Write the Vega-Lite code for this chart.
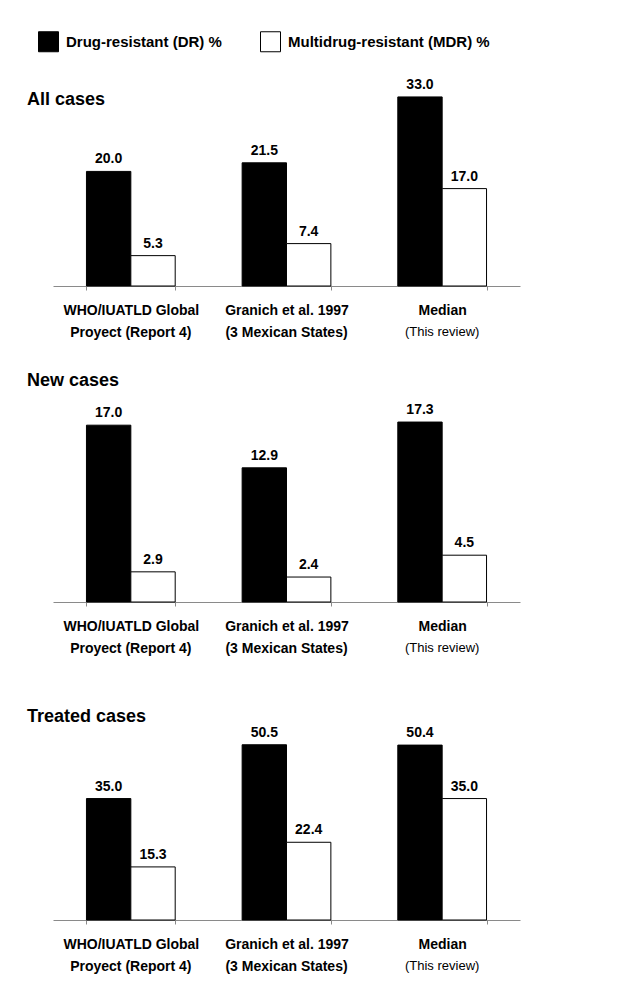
{
  "$schema": "https://vega.github.io/schema/vega-lite/v6.json",
  "padding": {"left": 27, "top": 31, "right": 5, "bottom": 5},
  "bounds": "flush",
  "spacing": 93,
  "config": {
    "font": "Liberation Sans",
    "view": {"stroke": null},
    "title": {"fontSize": 18, "fontWeight": "bold", "anchor": "start", "frame": "group", "color": "black", "dx": -26},
    "legend": {"padding": 0}
  },
  "datasets": {
    "d": [
      {"panel": "All cases", "study": "WHO/IUATLD Global Proyect (Report 4)", "type": "Drug-resistant (DR) %", "value": 20.0},
      {"panel": "All cases", "study": "WHO/IUATLD Global Proyect (Report 4)", "type": "Multidrug-resistant (MDR) %", "value": 5.3},
      {"panel": "All cases", "study": "Granich et al. 1997 (3 Mexican States)", "type": "Drug-resistant (DR) %", "value": 21.5},
      {"panel": "All cases", "study": "Granich et al. 1997 (3 Mexican States)", "type": "Multidrug-resistant (MDR) %", "value": 7.4},
      {"panel": "All cases", "study": "Median (This review)", "type": "Drug-resistant (DR) %", "value": 33.0},
      {"panel": "All cases", "study": "Median (This review)", "type": "Multidrug-resistant (MDR) %", "value": 17.0},
      {"panel": "New cases", "study": "WHO/IUATLD Global Proyect (Report 4)", "type": "Drug-resistant (DR) %", "value": 17.0},
      {"panel": "New cases", "study": "WHO/IUATLD Global Proyect (Report 4)", "type": "Multidrug-resistant (MDR) %", "value": 2.9},
      {"panel": "New cases", "study": "Granich et al. 1997 (3 Mexican States)", "type": "Drug-resistant (DR) %", "value": 12.9},
      {"panel": "New cases", "study": "Granich et al. 1997 (3 Mexican States)", "type": "Multidrug-resistant (MDR) %", "value": 2.4},
      {"panel": "New cases", "study": "Median (This review)", "type": "Drug-resistant (DR) %", "value": 17.3},
      {"panel": "New cases", "study": "Median (This review)", "type": "Multidrug-resistant (MDR) %", "value": 4.5},
      {"panel": "Treated cases", "study": "WHO/IUATLD Global Proyect (Report 4)", "type": "Drug-resistant (DR) %", "value": 35.0},
      {"panel": "Treated cases", "study": "WHO/IUATLD Global Proyect (Report 4)", "type": "Multidrug-resistant (MDR) %", "value": 15.3},
      {"panel": "Treated cases", "study": "Granich et al. 1997 (3 Mexican States)", "type": "Drug-resistant (DR) %", "value": 50.5},
      {"panel": "Treated cases", "study": "Granich et al. 1997 (3 Mexican States)", "type": "Multidrug-resistant (MDR) %", "value": 22.4},
      {"panel": "Treated cases", "study": "Median (This review)", "type": "Drug-resistant (DR) %", "value": 50.4},
      {"panel": "Treated cases", "study": "Median (This review)", "type": "Multidrug-resistant (MDR) %", "value": 35.0}
    ]
  },
  "vconcat": [
    {
      "title": {"text": "All cases", "offset": -39},
      "width": 467, "height": 216,
      "data": {"name": "d"},
      "transform": [{"filter": "datum.panel == 'All cases'"}],
      "encoding": {
        "x": {"field": "study", "type": "nominal", "sort": null, "scale": {"paddingInner": 0.43, "paddingOuter": 0.215},
          "axis": {"orient": "bottom", "title": null, "domainColor": "#8a8a8a", "tickColor": "#8a8a8a", "tickBand": "extent", "tickSize": 4, "labelPadding": 13, "labelFontSize": 14, "labelFontWeight": "bold", "labelColor": "black", "labelAngle": 0, "labelLimit": 300, "labelOverlap": false,
            "labelExpr": "datum.value == 'Median (This review)' ? 'Median' : datum.value == 'Granich et al. 1997 (3 Mexican States)' ? 'Granich et al. 1997' : datum.value == 'WHO/IUATLD Global Proyect (Report 4)' ? 'WHO/IUATLD Global' : ''"}},
        "xOffset": {"field": "type", "type": "nominal", "sort": null, "scale": {"paddingInner": 0, "paddingOuter": 0}},
        "y": {"field": "value", "type": "quantitative", "scale": {"domain": [0, 37.7], "nice": false}, "axis": null}
      },
      "layer": [
        {"mark": {"type": "bar", "stroke": "black", "strokeWidth": 1},
          "encoding": {"fill": {"field": "type", "type": "nominal", "scale": {"domain": ["Drug-resistant (DR) %", "Multidrug-resistant (MDR) %"], "range": ["black", "white"]},
            "legend": {"title": null, "orient": "none", "direction": "horizontal", "legendX": -15, "legendY": -39, "symbolType": "square", "symbolSize": 400, "symbolStrokeColor": "black", "symbolStrokeWidth": 1, "labelFontSize": 15, "labelFontWeight": "bold", "labelColor": "black", "labelLimit": 400, "labelOffset": 7, "columnPadding": 36}}}},
        {"mark": {"type": "text", "baseline": "alphabetic", "dy": -8, "fontSize": 14, "fontWeight": "bold", "color": "black"},
          "encoding": {"text": {"field": "value", "type": "quantitative", "format": ".1f"},
            "x": {"field": "study", "type": "nominal", "sort": null,
              "axis": {"orient": "bottom", "title": null, "domain": false, "ticks": false, "tickSize": 0, "labelPadding": 39, "labelFontSize": {"condition": {"test": "datum.value == 'Median (This review)'", "value": 13}, "value": 14}, "labelFontWeight": {"condition": {"test": "datum.value == 'Median (This review)'", "value": "normal"}, "value": "bold"}, "labelColor": "black", "labelAngle": 0, "labelLimit": 300, "labelOverlap": false,
                "labelExpr": "datum.value == 'Median (This review)' ? '(This review)' : datum.value == 'Granich et al. 1997 (3 Mexican States)' ? '(3 Mexican States)' : datum.value == 'WHO/IUATLD Global Proyect (Report 4)' ? 'Proyect (Report 4)' : ''"}}}}
      ],
      "resolve": {"axis": {"x": "independent"}}
    },
    {
      "title": {"text": "New cases", "offset": -11},
      "width": 467, "height": 223,
      "data": {"name": "d"},
      "transform": [{"filter": "datum.panel == 'New cases'"}],
      "encoding": {
        "x": {"field": "study", "type": "nominal", "sort": null, "scale": {"paddingInner": 0.43, "paddingOuter": 0.215},
          "axis": {"orient": "bottom", "title": null, "domainColor": "#8a8a8a", "tickColor": "#8a8a8a", "tickBand": "extent", "tickSize": 4, "labelPadding": 13, "labelFontSize": 14, "labelFontWeight": "bold", "labelColor": "black", "labelAngle": 0, "labelLimit": 300, "labelOverlap": false,
            "labelExpr": "datum.value == 'Median (This review)' ? 'Median' : datum.value == 'Granich et al. 1997 (3 Mexican States)' ? 'Granich et al. 1997' : datum.value == 'WHO/IUATLD Global Proyect (Report 4)' ? 'WHO/IUATLD Global' : ''"}},
        "xOffset": {"field": "type", "type": "nominal", "sort": null, "scale": {"paddingInner": 0, "paddingOuter": 0}},
        "y": {"field": "value", "type": "quantitative", "scale": {"domain": [0, 21.44], "nice": false}, "axis": null}
      },
      "layer": [
        {"mark": {"type": "bar", "stroke": "black", "strokeWidth": 1},
          "encoding": {"fill": {"field": "type", "type": "nominal", "scale": {"domain": ["Drug-resistant (DR) %", "Multidrug-resistant (MDR) %"], "range": ["black", "white"]}}}},
        {"mark": {"type": "text", "baseline": "alphabetic", "dy": -8, "fontSize": 14, "fontWeight": "bold", "color": "black"},
          "encoding": {"text": {"field": "value", "type": "quantitative", "format": ".1f"},
            "x": {"field": "study", "type": "nominal", "sort": null,
              "axis": {"orient": "bottom", "title": null, "domain": false, "ticks": false, "tickSize": 0, "labelPadding": 39, "labelFontSize": {"condition": {"test": "datum.value == 'Median (This review)'", "value": 13}, "value": 14}, "labelFontWeight": {"condition": {"test": "datum.value == 'Median (This review)'", "value": "normal"}, "value": "bold"}, "labelColor": "black", "labelAngle": 0, "labelLimit": 300, "labelOverlap": false,
                "labelExpr": "datum.value == 'Median (This review)' ? '(This review)' : datum.value == 'Granich et al. 1997 (3 Mexican States)' ? '(3 Mexican States)' : datum.value == 'WHO/IUATLD Global Proyect (Report 4)' ? 'Proyect (Report 4)' : ''"}}}}
      ],
      "resolve": {"axis": {"x": "independent"}}
    },
    {
      "title": {"text": "Treated cases", "offset": -31},
      "width": 467, "height": 225,
      "data": {"name": "d"},
      "transform": [{"filter": "datum.panel == 'Treated cases'"}],
      "encoding": {
        "x": {"field": "study", "type": "nominal", "sort": null, "scale": {"paddingInner": 0.43, "paddingOuter": 0.215},
          "axis": {"orient": "bottom", "title": null, "domainColor": "#8a8a8a", "tickColor": "#8a8a8a", "tickBand": "extent", "tickSize": 4, "labelPadding": 13, "labelFontSize": 14, "labelFontWeight": "bold", "labelColor": "black", "labelAngle": 0, "labelLimit": 300, "labelOverlap": false,
            "labelExpr": "datum.value == 'Median (This review)' ? 'Median' : datum.value == 'Granich et al. 1997 (3 Mexican States)' ? 'Granich et al. 1997' : datum.value == 'WHO/IUATLD Global Proyect (Report 4)' ? 'WHO/IUATLD Global' : ''"}},
        "xOffset": {"field": "type", "type": "nominal", "sort": null, "scale": {"paddingInner": 0, "paddingOuter": 0}},
        "y": {"field": "value", "type": "quantitative", "scale": {"domain": [0, 64.84], "nice": false}, "axis": null}
      },
      "layer": [
        {"mark": {"type": "bar", "stroke": "black", "strokeWidth": 1},
          "encoding": {"fill": {"field": "type", "type": "nominal", "scale": {"domain": ["Drug-resistant (DR) %", "Multidrug-resistant (MDR) %"], "range": ["black", "white"]}}}},
        {"mark": {"type": "text", "baseline": "alphabetic", "dy": -8, "fontSize": 14, "fontWeight": "bold", "color": "black"},
          "encoding": {"text": {"field": "value", "type": "quantitative", "format": ".1f"},
            "x": {"field": "study", "type": "nominal", "sort": null,
              "axis": {"orient": "bottom", "title": null, "domain": false, "ticks": false, "tickSize": 0, "labelPadding": 39, "labelFontSize": {"condition": {"test": "datum.value == 'Median (This review)'", "value": 13}, "value": 14}, "labelFontWeight": {"condition": {"test": "datum.value == 'Median (This review)'", "value": "normal"}, "value": "bold"}, "labelColor": "black", "labelAngle": 0, "labelLimit": 300, "labelOverlap": false,
                "labelExpr": "datum.value == 'Median (This review)' ? '(This review)' : datum.value == 'Granich et al. 1997 (3 Mexican States)' ? '(3 Mexican States)' : datum.value == 'WHO/IUATLD Global Proyect (Report 4)' ? 'Proyect (Report 4)' : ''"}}}}
      ],
      "resolve": {"axis": {"x": "independent"}}
    }
  ]
}
